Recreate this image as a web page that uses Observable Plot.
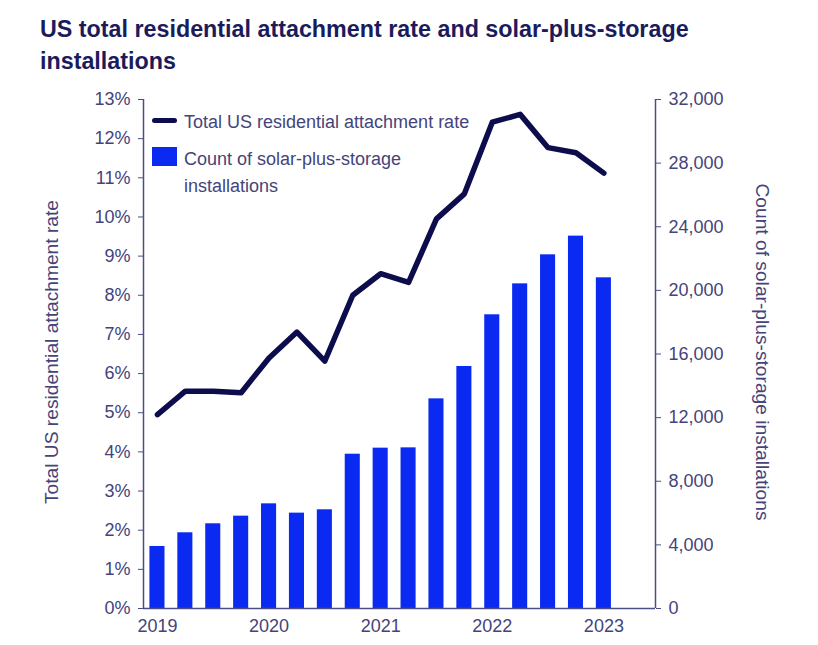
<!DOCTYPE html>
<html><head><meta charset="utf-8">
<script src="https://cdn.jsdelivr.net/npm/d3@7"></script>
<script src="https://cdn.jsdelivr.net/npm/@observablehq/plot@0.6"></script>
<style>
body{margin:0;background:#fff;font-family:"Liberation Sans",Arial,sans-serif;}
#wrap{position:relative;width:818px;height:645px;overflow:hidden;}
#title{position:absolute;left:40px;top:13px;font-size:23.3px;font-weight:bold;color:#1b1b5c;line-height:32px;white-space:nowrap;}
#chart{position:absolute;left:0;top:80px;}
.lg{position:absolute;font-size:18px;color:#44447a;white-space:nowrap;line-height:27px;}
.ax{position:absolute;font-size:19.2px;color:#44447a;white-space:nowrap;line-height:20px;}
</style></head>
<body>
<div id="wrap">
  <div id="title">US total residential attachment rate and solar-plus-storage<br>installations</div>
  <div id="chart"></div>
  <div style="position:absolute;left:152px;top:117.5px;width:25px;height:5.5px;border-radius:2.75px;background:#0d0d4d;"></div>
  <div class="lg" style="left:184px;top:108.5px;">Total US residential attachment rate</div>
  <div style="position:absolute;left:152px;top:147px;width:25px;height:19px;background:#0a2af2;"></div>
  <div class="lg" style="left:184px;top:146px;">Count of solar-plus-storage<br>installations</div>
  <div class="ax" style="left:52px;top:352px;transform:translate(-50%,-50%) rotate(-90deg);">Total US residential attachment rate</div>
  <div class="ax" style="left:762px;top:352px;transform:translate(-50%,-50%) rotate(90deg);">Count of solar-plus-storage installations</div>
</div>
<script>
const quarters = ["2019 Q1","2019 Q2","2019 Q3","2019 Q4","2020 Q1","2020 Q2","2020 Q3","2020 Q4",
  "2021 Q1","2021 Q2","2021 Q3","2021 Q4","2022 Q1","2022 Q2","2022 Q3","2022 Q4","2023 Q1"];
const attachmentRate = [4.95,5.55,5.55,5.51,6.40,7.06,6.32,8.00,8.55,8.33,9.95,10.59,12.42,12.62,11.77,11.64,11.12];
const installations = [3900,4760,5325,5805,6580,5995,6205,9700,10080,10100,13180,15215,18465,20410,22235,23410,20790];
const yearLabels = ["2019","2020","2021","2022","2023"];
const rateTicks = [0,1,2,3,4,5,6,7,8,9,10,11,12,13];
const countTicks = [0,4000,8000,12000,16000,20000,24000,28000,32000];

const rateMax = 13, countMax = 32000;
const toRate = c => c * rateMax / countMax;
const data = quarters.map((q, i) => ({i, q, rate: attachmentRate[i], count: installations[i]}));
const yearIdx = yearLabels.map(y => quarters.indexOf(y + " Q1"));

const axisColor = "#4d4d85";
const xMin = -0.5, xMax = 17.85;

const chart = Plot.plot({
  width: 818,
  height: 565,
  marginTop: 19,
  marginBottom: 37,
  marginLeft: 143,
  marginRight: 163,
  style: {fontSize: "18px", fontFamily: "'Liberation Sans', Arial, sans-serif", color: "#44447a", background: "#fff"},
  x: {type: "linear", domain: [xMin, xMax]},
  y: {domain: [0, rateMax]},
  marks: [
    Plot.rectY(data, {x1: d => d.i - 0.27, x2: d => d.i + 0.27, y1: 0, y2: d => toRate(d.count), fill: "#0a2af2"}),
    Plot.lineY(data, {x: "i", y: "rate", stroke: "#0d0d4d", strokeWidth: 5.5, strokeLinejoin: "round"}),
    Plot.ruleY([0], {stroke: axisColor, strokeWidth: 1.5}),
    Plot.ruleX([xMin, xMax], {y1: 0, y2: rateMax, stroke: axisColor, strokeWidth: 1.5}),
    Plot.axisY(rateTicks, {anchor: "left", tickFormat: d => d + "%", tickSize: 5, tickPadding: 8, stroke: axisColor, label: null}),
    Plot.axisY(countTicks.map(toRate), {anchor: "right", tickFormat: d => d3.format(",")(Math.round(d * countMax / rateMax)), tickSize: 5, tickPadding: 8, stroke: axisColor, label: null}),
    Plot.axisX(yearIdx, {anchor: "bottom", tickFormat: d => yearLabels[yearIdx.indexOf(d)], tickSize: 0, tickPadding: 11, label: null})
  ]
});
document.getElementById("chart").appendChild(chart);
</script>
</body></html>
